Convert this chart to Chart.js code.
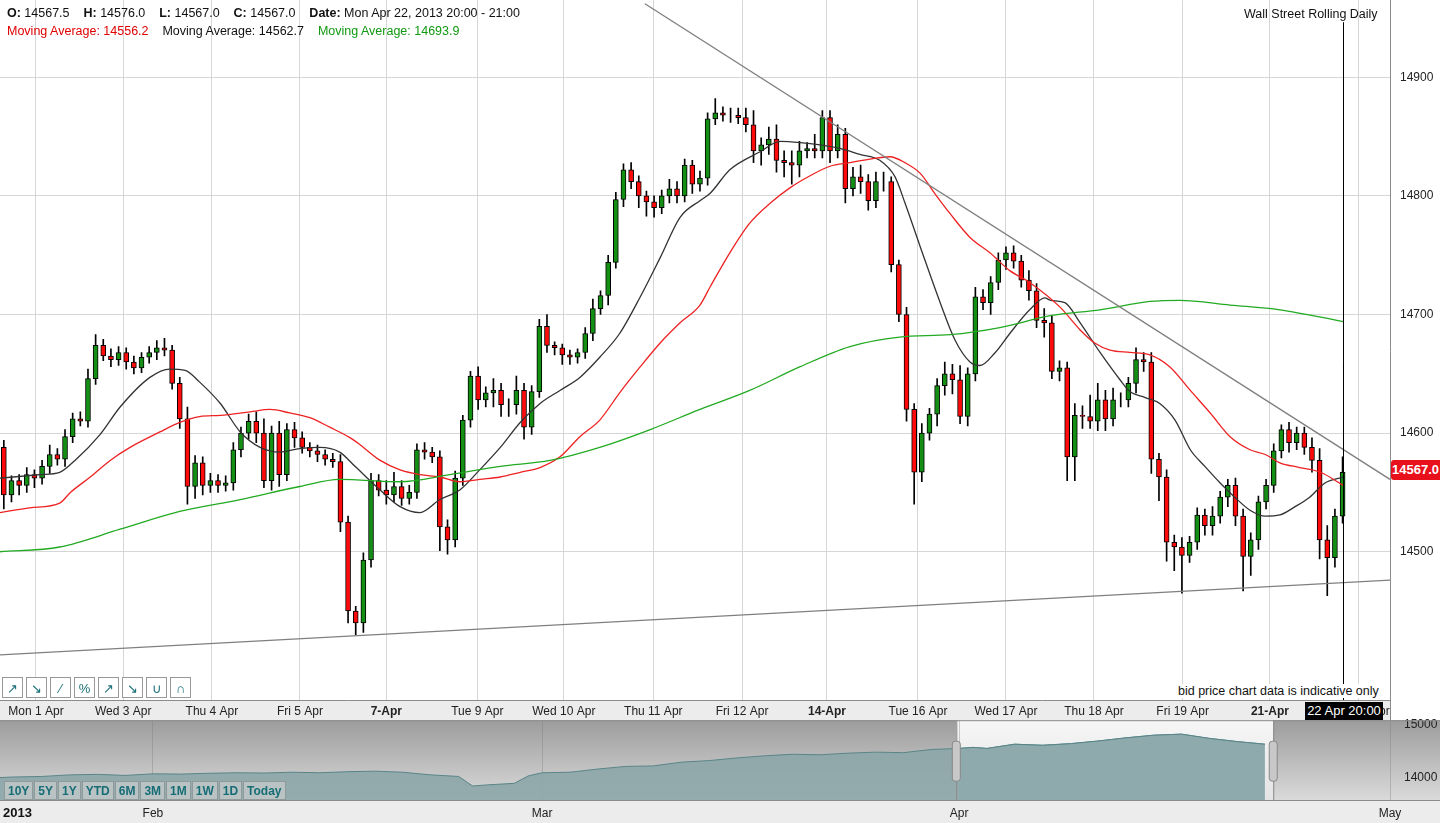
<!DOCTYPE html>
<html>
<head>
<meta charset="utf-8">
<script src="https://cdn.jsdelivr.net/npm/chart.js@4.4.1/dist/chart.umd.min.js"></script>
<style>
  body { margin:0; width:1440px; height:823px; overflow:hidden; background:#fff; font-family:"Liberation Sans", Arial, sans-serif; position:relative; }
  #main { position:absolute; left:0; top:-17px; width:1440px; height:737px; }
  #nav { position:absolute; left:0; top:707px; width:1440px; height:116px; }
  .txt { position:absolute; font-size:12.5px; white-space:nowrap; color:#111; }
  .tools { position:absolute; left:2px; top:677px; }
  .tools span { display:inline-block; width:21px; height:21px; margin-right:3px; border:1px solid #999; background:#fff; font-size:13px; line-height:21px; text-align:center; color:#1b6f78; box-sizing:border-box; }
  .ranges { position:absolute; left:4px; top:781px; }
  .ranges span { display:inline-block; height:19px; padding:0 3px; margin-right:1px; background:#b9c3c4; border:1px solid #909a9b; font-size:12px; font-weight:bold; line-height:19px; color:#176d76; box-sizing:border-box; }
</style>
</head>
<body>
<div id="main"><canvas id="mainChart"></canvas></div>
<div id="nav"><canvas id="navChart"></canvas></div>

<div class="txt" style="left:7px;top:6px"><b>O:</b> 14567.5 &nbsp;&nbsp; <b>H:</b> 14576.0 &nbsp;&nbsp; <b>L:</b> 14567.0 &nbsp;&nbsp; <b>C:</b> 14567.0 &nbsp;&nbsp; <b>Date:</b> Mon Apr 22, 2013 20:00 - 21:00</div>
<div class="txt" style="left:7px;top:24px"><span style="color:#e00000">Moving Average: 14556.2</span> &nbsp;&nbsp; <span>Moving Average: 14562.7</span> &nbsp;&nbsp; <span style="color:#119911">Moving Average: 14693.9</span></div>
<div class="txt" style="left:1244px;top:7px">Wall Street Rolling Daily</div>
<div class="txt" style="left:1176px;top:684px;background:#fff;padding:0 2px">bid price chart data is indicative only</div>
<div class="txt" style="left:1305px;top:702px;width:78px;height:18px;line-height:18px;background:#000;color:#fff;text-align:center;font-size:13px">22 Apr 20:00</div>
<div class="txt" style="left:1391px;top:460px;width:49px;height:20px;line-height:20px;background:#e8101a;color:#fff;font-weight:bold;font-size:13px;text-align:center;border-radius:3px 0 0 3px">14567.0</div>
<div class="tools"><span>↗</span><span>↘</span><span>⁄</span><span>%</span><span>↗</span><span>↘</span><span>∪</span><span>∩</span></div>
<div class="ranges"><span>10Y</span><span>5Y</span><span>1Y</span><span>YTD</span><span>6M</span><span>3M</span><span>1M</span><span>1W</span><span>1D</span><span>Today</span></div>
<div class="txt" style="left:3px;top:805px;font-weight:bold;font-size:13px">2013</div>

<script>
// 2-hour candles, 1 Apr -> 22 Apr 2013
const firstOpen = 14588;
const closes = [
  14548,14560,14556,14565,14562,14572,14582,14578,14597,14612,14610,14646,14674,14665,14662,14668,14660,14655,14664,14668,
  14672,14670,14642,14612,14555,14575,14556,14560,14556,14558,14586,14600,14610,14600,14560,14600,14565,14603,14596,14588,
  14585,14582,14578,14576,14525,14450,14440,14493,14560,14552,14548,14555,14545,14550,14586,14584,14580,14521,14510,14562,
  14611,14648,14628,14634,14636,14624,14624,14636,14605,14635,14690,14674,14672,14666,14664,14668,14684,14705,14716,14744,
  14797,14822,14812,14800,14795,14790,14800,14806,14800,14826,14810,14815,14865,14870,14868,14868,14866,14860,14838,14843,
  14848,14830,14828,14826,14838,14840,14838,14866,14838,14852,14806,14816,14812,14796,14812,14812,14742,14700,14620,14567,
  14600,14616,14640,14650,14645,14614,14650,14715,14710,14727,14746,14752,14745,14729,14720,14695,14693,14652,14655,14580,
  14615,14614,14610,14628,14612,14628,14628,14642,14662,14660,14578,14563,14508,14504,14497,14508,14531,14522,14530,14546,
  14556,14530,14496,14510,14542,14556,14585,14603,14592,14600,14588,14577,14510,14495,14530,14567
];
const wickUp = [
  6,4,5,6,4,5,8,5,6,5,6,8,9,5,6,5,4,5,4,5,
  6,8,4,5,10,6,5,6,5,6,6,5,6,8,12,6,10,5,6,5,
  4,5,4,5,6,5,4,6,6,5,8,12,5,6,5,6,4,5,6,6,
  4,4,8,5,10,6,5,12,6,5,6,10,3,3,4,3,5,8,4,6,
  6,5,6,5,4,5,5,8,6,5,4,6,5,12,5,6,6,8,12,6,
  10,12,8,10,8,5,12,6,6,8,5,8,10,6,8,8,4,4,6,5,
  8,5,6,10,8,12,5,8,6,5,6,5,6,5,8,6,10,6,6,5,
  10,8,18,14,8,10,6,5,10,6,8,5,6,6,8,5,6,5,8,5,
  5,6,6,6,5,5,6,4,6,5,5,8,10,12,6,13
];
const wickDn = [
  12,6,8,6,8,5,6,5,6,5,4,5,5,4,6,5,6,5,4,5,
  6,5,5,8,15,10,8,6,6,5,6,6,5,8,6,8,10,5,8,5,
  5,6,5,5,8,10,10,8,6,5,8,6,6,5,5,6,5,20,12,6,
  6,6,8,6,12,10,10,8,10,6,5,6,6,8,6,5,5,6,5,8,
  5,6,6,10,12,8,5,6,6,5,8,6,6,5,5,6,5,6,10,12,
  8,10,12,16,10,6,6,6,10,6,12,6,10,8,6,8,6,6,10,27,
  8,6,10,8,12,6,8,6,6,10,6,8,6,6,8,6,12,6,8,20,
  20,10,6,8,10,6,6,6,8,8,12,20,16,20,32,6,6,8,8,6,
  8,8,29,16,8,6,6,6,8,6,6,10,16,32,8,6
];

// day ticks (candle index) and labels
const dayTicks = [4.2,15.6,27.2,38.7,50,61.9,73.2,84.9,96.5,107.6,119.5,131,142.5,154.1,165.5,177.1];
const dayLabels = ['Mon 1 Apr','Wed 3 Apr','Thu 4 Apr','Fri 5 Apr','7-Apr','Tue 9 Apr','Wed 10 Apr','Thu 11 Apr',
  'Fri 12 Apr','14-Apr','Tue 16 Apr','Wed 17 Apr','Thu 18 Apr','Fri 19 Apr','21-Apr','Mon 22 Apr'];
const boldLabels = ['7-Apr','14-Apr','21-Apr'];
const priceTicks = [14500,14600,14700,14800,14900];

// moving averages [candle index, value]
const maBlack = [[-0.5,14562],[4.7,14565],[7.3,14567],[9.3,14577],[12.6,14599],[15.2,14622],[19.1,14647],[21.7,14654],[23.7,14653],[25.6,14643],
  [28.3,14625],[30.9,14601],[33.5,14588],[36.1,14584],[38.7,14587],[41.3,14588],[43.9,14584],[45.9,14572],[49.2,14552],[51.8,14538],
  [54.4,14533],[57.0,14544],[59.6,14552],[62.2,14569],[64.9,14588],[67.5,14609],[70.1,14625],[72.7,14636],[75.3,14647],[77.9,14664],
  [80.5,14684],[83.2,14715],[85.8,14748],[88.4,14782],[91.0,14796],[92.3,14802],[94.9,14822],[98.8,14837],[101.5,14846],[104.1,14845],
  [106.7,14843],[109.3,14840],[111.9,14835],[114.5,14830],[116.5,14816],[117.8,14794],[119.8,14757],[122.4,14710],[124.3,14679],[126.3,14660],
  [127.6,14657],[129.6,14668],[131.5,14684],[134.1,14704],[136.1,14714],[136.8,14712],[138.7,14710],[140.7,14693],[143.3,14668],[145.9,14645],
  [147.2,14635],[149.2,14630],[151.1,14625],[153.1,14611],[155.1,14586],[157.0,14572],[159.0,14558],[160.9,14546],[162.9,14535],[164.9,14530],
  [166.8,14531],[168.8,14538],[170.7,14546],[172.7,14558],[175.1,14563]];
const maRed = [[-0.5,14533],[3.4,14537],[7.3,14541],[8.7,14550],[11.3,14563],[13.9,14577],[16.5,14588],[20.4,14601],[23.0,14609],[25.6,14614],
  [28.3,14615],[32.2,14618],[34.8,14620],[37.4,14617],[40.0,14613],[42.6,14605],[45.3,14596],[46.6,14590],[49.2,14577],[51.8,14569],
  [54.4,14565],[57.0,14563],[59.6,14559],[62.2,14561],[64.9,14563],[67.5,14567],[70.1,14571],[72.7,14580],[75.3,14597],[77.9,14611],
  [80.5,14634],[83.2,14656],[85.8,14676],[88.4,14693],[91.0,14708],[92.3,14723],[94.9,14752],[97.5,14777],[100.2,14794],[102.8,14807],
  [105.4,14817],[108.0,14825],[110.6,14828],[113.2,14831],[115.8,14833],[117.8,14828],[119.8,14819],[121.7,14802],[123.7,14785],[126.3,14765],
  [128.9,14752],[131.5,14737],[134.1,14727],[138.1,14706],[140.7,14687],[142.6,14676],[144.6,14670],[147.2,14668],[149.8,14666],[152.4,14656],
  [155.1,14636],[157.7,14617],[160.3,14597],[162.9,14586],[164.9,14582],[166.8,14575],[169.4,14571],[172.1,14567],[175.1,14556]];
const maGreen = [[-0.5,14500],[7.3,14504],[15.2,14519],[23.0,14534],[30.9,14544],[38.7,14555],[43.9,14561],[51.8,14559],[58.3,14565],[64.9,14572],
  [71.4,14577],[77.9,14588],[84.5,14603],[91.0,14620],[97.5,14636],[104.1,14656],[110.6,14673],[117.1,14681],[123.7,14683],[130.2,14689],
  [136.8,14699],[143.3,14704],[149.8,14711],[153.7,14712],[160.3,14708],[166.8,14704],[175.1,14694]];
// drawn trend lines
const trendUpper = [[83.8,14962],[181.2,14561]];
const trendLower = [[-0.5,14413],[181.2,14476]];

// navigator: day of year, value
const navDays = [21,22,24,26,28,30,32,34,36,38,40,42,44,46,48,50,52,54,55,56,58,59,60,62,64,66,68,70,72,74,76,78,80,82,84,86,88,90,91,92,94,96,98,100,102,104,106,108,110,112];
const navVals = [14010,14020,14030,14060,14070,14050,14080,14075,14090,14100,14095,14110,14100,14120,14130,14110,14060,14030,13850,13870,13900,14040,14100,14110,14170,14220,14230,14300,14330,14380,14420,14450,14440,14470,14490,14480,14540,14560,14580,14560,14640,14620,14650,14700,14760,14810,14830,14750,14690,14640];
const navTicks = [32,60,90,121];
const navLabels = ['Feb','Mar','Apr','May'];
const windowDays = [89.8,112.6];

const GREEN = '#138f13', RED = '#ff0a0a';

let bodies = [], wicks = [], bodyColors = [];
let prev = firstOpen;
for (let i = 0; i < closes.length; i++) {
  let o = prev, c = closes[i];
  bodies.push({x:i, y:[o, c]});
  wicks.push({x:i, y:[Math.min(o,c) - wickDn[i], Math.max(o,c) + wickUp[i]]});
  bodyColors.push(c >= o ? GREEN : RED);
  prev = c;
}
const pts = arr => arr.map(p => ({x:p[0], y:p[1]}));
const lastIdx = closes.length - 1;
const FONT = '"Liberation Sans", Arial';

const mainDeco = {
  id:'mainDeco',
  beforeDraw(chart){
    const {ctx, chartArea:a} = chart;
    ctx.save();
    ctx.fillStyle = '#ececec';
    ctx.fillRect(0, a.bottom, a.right, 20);
    ctx.strokeStyle = '#8c8c8c';
    ctx.beginPath(); ctx.moveTo(0, a.bottom+0.5); ctx.lineTo(a.right, a.bottom+0.5); ctx.stroke();
    ctx.restore();
  },
  afterDatasetsDraw(chart){
    const {ctx, chartArea:a, scales} = chart;
    const x = Math.round(scales.x.getPixelForValue(lastIdx)) + 0.5;
    ctx.save();
    ctx.strokeStyle = '#000'; ctx.lineWidth = 1;
    ctx.beginPath(); ctx.moveTo(x, a.top + 22); ctx.lineTo(x, a.bottom); ctx.stroke();
    ctx.strokeStyle = '#8c8c8c';
    ctx.beginPath(); ctx.moveTo(a.right+0.5, 0); ctx.lineTo(a.right+0.5, a.bottom+20); ctx.stroke();
    ctx.restore();
  }
};

const lineDs = (data, color, width) => ({
  type:'line', data:pts(data), borderColor:color, borderWidth:width, pointRadius:0,
  cubicInterpolationMode:'monotone', order:1, fill:false
});

new Chart(document.getElementById('mainChart'), {
  type:'bar',
  data:{ datasets:[
    lineDs(trendUpper, '#7f7f7f', 1.3),
    lineDs(trendLower, '#7f7f7f', 1.3),
    lineDs(maGreen, '#22aa22', 1.3),
    lineDs(maRed, '#ee2222', 1.3),
    lineDs(maBlack, '#333333', 1.3),
    { data:bodies, backgroundColor:bodyColors, borderColor:'#000', borderWidth:1, barThickness:5, grouped:false, order:3, borderSkipped:false },
    { data:wicks, backgroundColor:'#000', borderWidth:0, barThickness:1, grouped:false, order:4 }
  ]},
  options:{
    responsive:true, maintainAspectRatio:false, animation:false,
    layout:{ padding:0 },
    plugins:{ legend:{display:false}, tooltip:{enabled:false} },
    scales:{
      x:{ type:'linear', min:-0.5, max:181.2, offset:false,
        afterBuildTicks: s => { s.ticks = dayTicks.map(v => ({value:v})); },
        afterFit: s => { s.height = 20; },
        ticks:{ autoSkip:false, maxRotation:0, padding:4, color:'#222',
          callback:(v,i) => dayLabels[i],
          font: c => ({ family:FONT, size:12, weight: boldLabels.includes(dayLabels[c.index]) ? 'bold' : 'normal' }) },
        grid:{ color:'#d6d6d6', drawTicks:false, offset:false }, border:{display:false} },
      y:{ position:'right', min:14375, max:14965,
        afterBuildTicks: s => { s.ticks = priceTicks.map(v => ({value:v})); },
        afterFit: s => { s.width = 50; },
        ticks:{ color:'#222', padding:10, font:{family:FONT, size:12}, callback: v => String(v) },
        grid:{ color:'#d6d6d6', drawTicks:false }, border:{display:false} }
    }
  },
  plugins:[mainDeco]
});

// navigator
const navPts = navDays.map((d,i) => ({x:d, y:navVals[i]}));
const navWin = navPts.filter(p => p.x >= windowDays[0] - 1.5);
const navDeco = {
  id:'navDeco',
  beforeDraw(chart){
    const {ctx, chartArea:a, scales} = chart;
    ctx.save();
    let g = ctx.createLinearGradient(0, a.top, 0, a.bottom);
    g.addColorStop(0, '#9c9c9c'); g.addColorStop(1, '#dadada');
    ctx.fillStyle = g; ctx.fillRect(a.left, a.top, a.right - a.left + 50, a.bottom - a.top);
    const x0 = scales.x.getPixelForValue(windowDays[0]), x1 = scales.x.getPixelForValue(windowDays[1]);
    let g2 = ctx.createLinearGradient(0, a.top, 0, a.bottom);
    g2.addColorStop(0, '#f6f6f6'); g2.addColorStop(1, '#e4e4e4');
    ctx.fillStyle = g2; ctx.fillRect(x0, a.top, x1 - x0, a.bottom - a.top);
    ctx.fillStyle = '#ececec';
    ctx.fillRect(0, a.bottom, a.right + 50, 23);
    ctx.restore();
  },
  afterDraw(chart){
    const {ctx, chartArea:a, scales} = chart;
    ctx.save();
    [windowDays[0], windowDays[1]].forEach(d => {
      const x = scales.x.getPixelForValue(d);
      ctx.strokeStyle = '#888';
      ctx.beginPath(); ctx.moveTo(x + 0.5, a.top); ctx.lineTo(x + 0.5, a.bottom); ctx.stroke();
      ctx.fillStyle = '#c8c8c8';
      ctx.beginPath(); ctx.roundRect(x - 4, a.top + 21, 8, 40, 3); ctx.fill(); ctx.stroke();
    });
    ctx.strokeStyle = '#8c8c8c';
    ctx.beginPath(); ctx.moveTo(0, a.top + 0.5); ctx.lineTo(a.right + 50, a.top + 0.5); ctx.stroke();
    ctx.beginPath(); ctx.moveTo(0, a.bottom + 0.5); ctx.lineTo(a.right + 50, a.bottom + 0.5); ctx.stroke();
    ctx.restore();
  }
};
new Chart(document.getElementById('navChart'), {
  type:'line',
  data:{ datasets:[
    { data:navPts, borderColor:'#5a8588', borderWidth:1, pointRadius:0, fill:'start', backgroundColor:'rgba(140,166,169,0.9)' },
    { data:navWin, borderColor:'#4f8a90', borderWidth:1, pointRadius:0, fill:'start', backgroundColor:'#a8ccd2' }
  ]},
  options:{
    responsive:true, maintainAspectRatio:false, animation:false,
    layout:{ padding:0 },
    plugins:{ legend:{display:false}, tooltip:{enabled:false} },
    scales:{
      x:{ type:'linear', min:21, max:121,
        afterBuildTicks: s => { s.ticks = navTicks.map(v => ({value:v})); },
        afterFit: s => { s.height = 23; },
        ticks:{ autoSkip:false, maxRotation:0, padding:6, color:'#222', callback:(v,i) => navLabels[i],
          font:{family:FONT, size:12} },
        grid:{ color:'rgba(120,120,120,0.35)', drawTicks:false }, border:{display:false} },
      y:{ position:'right', min:13585, max:15094,
        afterBuildTicks: s => { s.ticks = [14000,15000].map(v => ({value:v})); },
        afterFit: s => { s.width = 50; },
        ticks:{ color:'#222', padding:6, font:{family:FONT, size:12}, callback: v => String(v) },
        grid:{ display:false }, border:{display:false} }
    }
  },
  plugins:[navDeco]
});
</script>
</body>
</html>
